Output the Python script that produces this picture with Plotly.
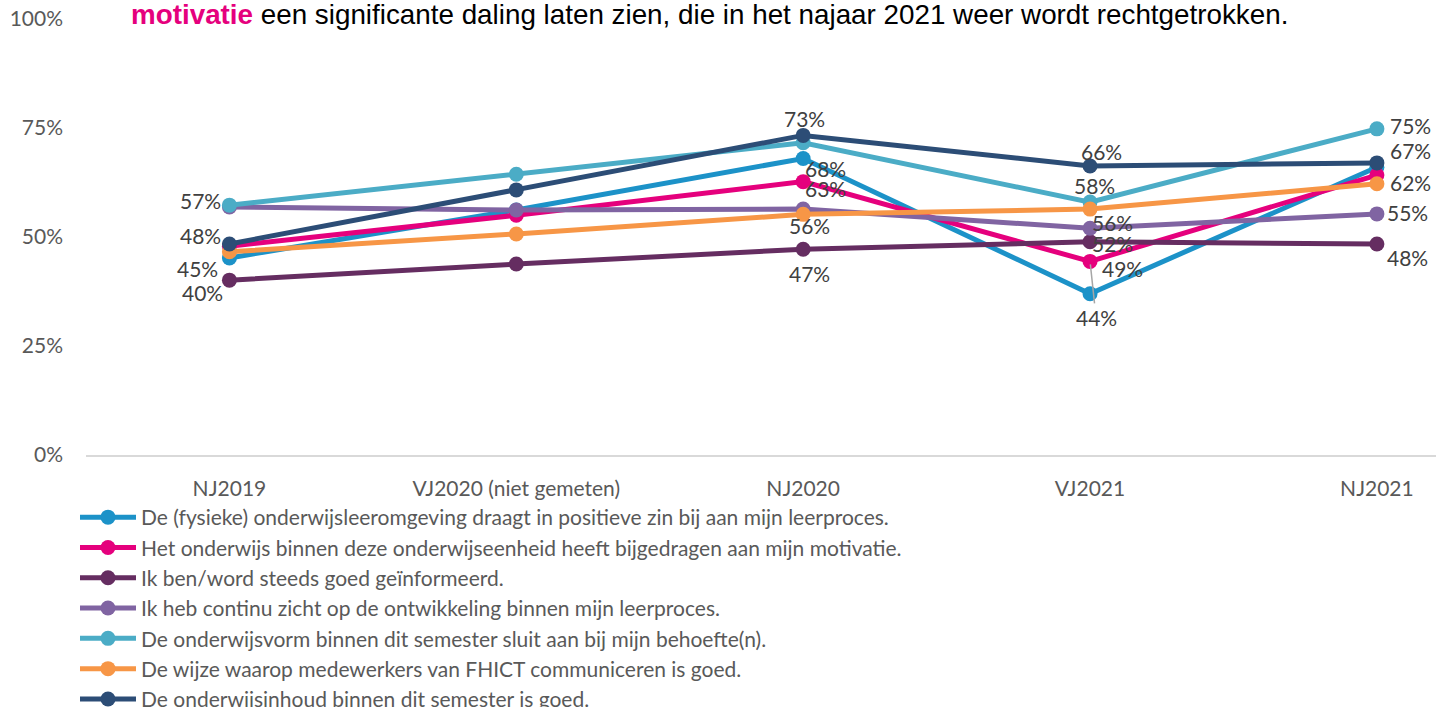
import plotly.graph_objects as go

categories = ["NJ2019", "VJ2020 (niet gemeten)", "NJ2020", "VJ2021", "NJ2021"]

series_names = [
    "De (fysieke) onderwijsleeromgeving draagt in positieve zin bij aan mijn leerproces.",
    "Het onderwijs binnen deze onderwijseenheid heeft bijgedragen aan mijn motivatie.",
    "Ik ben/word steeds goed geïnformeerd.",
    "Ik heb continu zicht op de ontwikkeling binnen mijn leerproces.",
    "De onderwijsvorm binnen dit semester sluit aan bij mijn behoefte(n).",
    "De wijze waarop medewerkers van FHICT communiceren is goed.",
    "De onderwijsinhoud binnen dit semester is goed.",
]

fysieke = [0.452, 0.562, 0.680, 0.370, 0.660]
motivatie = [0.479, 0.550, 0.627, 0.444, 0.642]
geinformeerd = [0.401, 0.438, 0.472, 0.489, 0.484]
zicht = [0.569, 0.562, 0.564, 0.520, 0.553]
onderwijsvorm = [0.573, 0.644, 0.716, 0.580, 0.748]
communicatie = [0.466, 0.507, 0.552, 0.564, 0.622]
inhoud = [0.484, 0.608, 0.733, 0.663, 0.670]

# which points carry a data label
fysieke_lbl = [True, False, True, False, False]
motivatie_lbl = [False, False, True, True, False]
geinformeerd_lbl = [True, False, True, True, True]
zicht_lbl = [False, False, True, True, True]
onderwijsvorm_lbl = [True, False, False, True, True]
communicatie_lbl = [False, False, False, True, True]
inhoud_lbl = [True, False, True, True, True]

# label offsets from their point (pixels: right, up) -- styling only
fysieke_off = [(-32, -11), None, (22, -10), None, None]
motivatie_off = [None, None, (22, -7), (6, -56), None]
geinformeerd_off = [(-27, -12), None, (6, -24), (32, -27), (31, -14)]
zicht_off = [None, None, (6, -16), (22, -15), (31, 1)]
onderwijsvorm_off = [(-29, 5), None, None, (4, 17), (34, 3)]
communicatie_off = [None, None, None, (22, -13), (34, 1)]
inhoud_off = [(-29, 8), None, (1, 17), (11, 14), (34, 12)]

colors = ["#1C92C8", "#E5007D", "#652D61", "#8064A2", "#4BACC6", "#F79646", "#2C4D76"]

values = [fysieke, motivatie, geinformeerd, zicht, onderwijsvorm, communicatie, inhoud]
labels = [fysieke_lbl, motivatie_lbl, geinformeerd_lbl, zicht_lbl, onderwijsvorm_lbl, communicatie_lbl, inhoud_lbl]
offsets = [fysieke_off, motivatie_off, geinformeerd_off, zicht_off, onderwijsvorm_off, communicatie_off, inhoud_off]

LABEL_FONT = dict(family="Lato", size=21, color="#404040")

W, H = 1436, 707
PLOT_L, PLOT_T, PLOT_B = 86, 19, 455
PLOT_H = PLOT_B - PLOT_T
PLOT_W = W - PLOT_L

fig = go.Figure()
for i, (name, vals, col) in enumerate(zip(series_names, values, colors)):
    fig.add_trace(go.Scatter(
        x=categories, y=vals, name=name, mode="lines+markers",
        line=dict(color=col, width=5),
        marker=dict(color=col, size=15),
        legendgroup=f"g{i}", cliponaxis=False,
    ))

for vals, lbl, off in zip(values, labels, offsets):
    for cat, v, show, o in zip(categories, vals, lbl, off):
        if not show:
            continue
        dx, dy = o
        txt = f"{round(v * 100):d}%"
        if abs(dy) > 40:
            # leader line label
            fig.add_annotation(
                x=cat, y=v, text=txt, showarrow=True, arrowhead=0,
                arrowwidth=1.5, arrowcolor="#A6A6A6", ax=dx, ay=-dy,
                font=LABEL_FONT, standoff=3,
            )
        else:
            fig.add_annotation(
                x=cat, y=v, text=txt, showarrow=False,
                xshift=dx, yshift=dy, xanchor="center", yanchor="middle",
                font=LABEL_FONT,
            )

# title fragment at the top
fig.add_annotation(
    xref="paper", yref="paper", x=(129 - 86) / PLOT_W, y=(455 - 32) / PLOT_H,
    xanchor="left", yanchor="bottom", showarrow=False,
    text="<b><span style='color:#E5007D'>motivatie</span></b> een significante daling laten zien, die in het najaar 2021 weer wordt rechtgetrokken.",
    font=dict(family="Liberation Sans", size=27.8, color="#000000"),
)

fig.update_layout(
    width=W, height=H,
    margin=dict(l=PLOT_L, r=0, t=PLOT_T, b=H - PLOT_B, autoexpand=False),
    paper_bgcolor="white", plot_bgcolor="white",
    font=dict(family="Lato", size=21, color="#595959"),
    showlegend=True,
    legend=dict(
        orientation="v", x=(75 - 86) / PLOT_W, xanchor="left", y=(455 - 497) / PLOT_H, yanchor="top",
        font=dict(family="Lato", size=21, color="#595959"),
        tracegroupgap=0, itemwidth=56, bgcolor="rgba(0,0,0,0)",
    ),
    xaxis=dict(
        type="category", range=[-0.5, 4.206], showgrid=False,
        showline=True, linecolor="#D9D9D9", linewidth=2,
        ticks="", ticklabelstandoff=14, automargin=False,
        tickfont=dict(family="Lato", size=21, color="#595959"),
    ),
    yaxis=dict(
        range=[0, 1], tickvals=[0, 0.25, 0.5, 0.75, 1], tickformat=".0%",
        showgrid=False, showline=False, zeroline=False, ticks="",
        ticklabelstandoff=22, automargin=False,
        tickfont=dict(family="Lato", size=21, color="#595959"),
    ),
)

# remove the browser's default body margin so the figure sits at the page origin
fig.write_html(
    "out.html",
    config={"displayModeBar": False},
    post_script="document.body.style.margin='0px';",
)
